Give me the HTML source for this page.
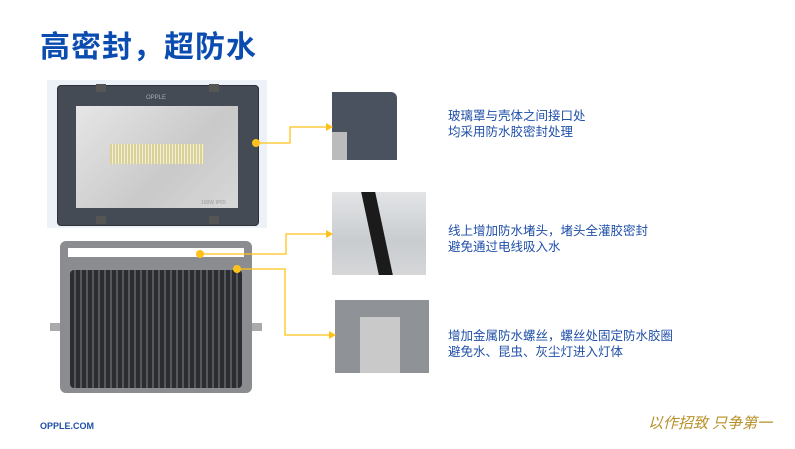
<!DOCTYPE html>
<html><head><meta charset="utf-8"><style>
body{margin:0;width:795px;height:449px;background:#fff;position:relative;overflow:hidden;font-family:"Liberation Sans","Noto Sans CJK SC",sans-serif}
.a{position:absolute}
.t{color:#1f4fa8;font-size:12.5px;line-height:16px}
</style></head><body>
<div class="a" style="left:40px;top:22px;font-size:30px;font-weight:bold;color:#0b4cb0;letter-spacing:1px">高密封，超防水</div>
<div class="a" style="left:47px;top:80px;width:220px;height:148px;background:#edf2f9"></div>
<div class="a" style="left:57px;top:85px;width:200px;height:139px;background:#454b54;border-radius:4px;border:1px solid #2e3238"></div>
<div class="a" style="left:96px;top:84px;width:10px;height:8px;background:#555"></div>
<div class="a" style="left:209px;top:84px;width:10px;height:8px;background:#555"></div>
<div class="a" style="left:96px;top:216px;width:10px;height:8px;background:#555"></div>
<div class="a" style="left:209px;top:216px;width:10px;height:8px;background:#555"></div>
<div class="a" style="left:146px;top:95px;font-size:6px;color:#aab">OPPLE</div>
<div class="a" style="left:76px;top:106px;width:162px;height:102px;background:linear-gradient(135deg,#e6e6e6,#c9c9c9 60%,#d8d8d8)"></div>
<div class="a" style="left:110px;top:144px;width:94px;height:20px;background:repeating-linear-gradient(90deg,#d9d09a 0 2px,#f3f0d8 2px 3px)"></div>
<div class="a" style="left:201px;top:200px;font-size:5px;color:#999">100W IP65</div>
<div class="a" style="left:60px;top:241px;width:192px;height:152px;background:#8a8c90;border-radius:6px"></div>
<div class="a" style="left:68px;top:248px;width:176px;height:9px;background:#fff"></div>
<div class="a" style="left:70px;top:270px;width:172px;height:118px;background:repeating-linear-gradient(90deg,#2b2d30 0 4px,#55585c 4px 6px);border-radius:4px"></div>
<div class="a" style="left:50px;top:323px;width:10px;height:8px;background:#aaa"></div>
<div class="a" style="left:252px;top:323px;width:10px;height:8px;background:#aaa"></div>
<div class="a" style="left:332px;top:92px;width:65px;height:68px;background:#4a5260;border-radius:0 6px 0 0"></div>
<div class="a" style="left:332px;top:132px;width:15px;height:28px;background:#bbb"></div>
<div class="a" style="left:332px;top:192px;width:94px;height:83px;background:linear-gradient(#e2e4e6,#c9cccf 60%,#d5d7d9)"></div>
<div class="a" style="left:370px;top:192px;width:14px;height:83px;background:#1b1b1b;transform:skewX(12deg)"></div>
<div class="a" style="left:335px;top:300px;width:94px;height:73px;background:#8f9296"></div>
<div class="a" style="left:360px;top:317px;width:40px;height:56px;background:#c9c9c9"></div>
<svg class="a" style="left:0;top:0" width="795" height="449">
<g fill="none" stroke="#ffc21a" stroke-width="1.3">
<polyline points="256,143 290,143 290,127 328,127"/>
<polyline points="200,254 286,254 286,234 328,234"/>
<polyline points="237,269 285,269 285,335 330,335"/>
</g>
<g fill="#ffc21a">
<circle cx="256" cy="143" r="4"/><circle cx="200" cy="254" r="4"/><circle cx="237" cy="269" r="4"/>
<polygon points="326,123 333,127 326,131"/><polygon points="326,230 333,234 326,238"/><polygon points="329,331 336,335 329,339"/>
</g></svg>
<div class="a t" style="left:448px;top:108px">玻璃罩与壳体之间接口处<br>均采用防水胶密封处理</div>
<div class="a t" style="left:448px;top:223px">线上增加防水堵头，堵头全灌胶密封<br>避免通过电线吸入水</div>
<div class="a t" style="left:448px;top:328px">增加金属防水螺丝，螺丝处固定防水胶圈<br>避免水、昆虫、灰尘灯进入灯体</div>
<div class="a" style="left:40px;top:421px;font-size:9px;font-weight:bold;color:#1f4fa8">OPPLE.COM</div>
<div class="a" style="left:648px;top:412px;font-size:15px;color:#b8902a;font-style:italic">以作招致 只争第一</div>
</body></html>
